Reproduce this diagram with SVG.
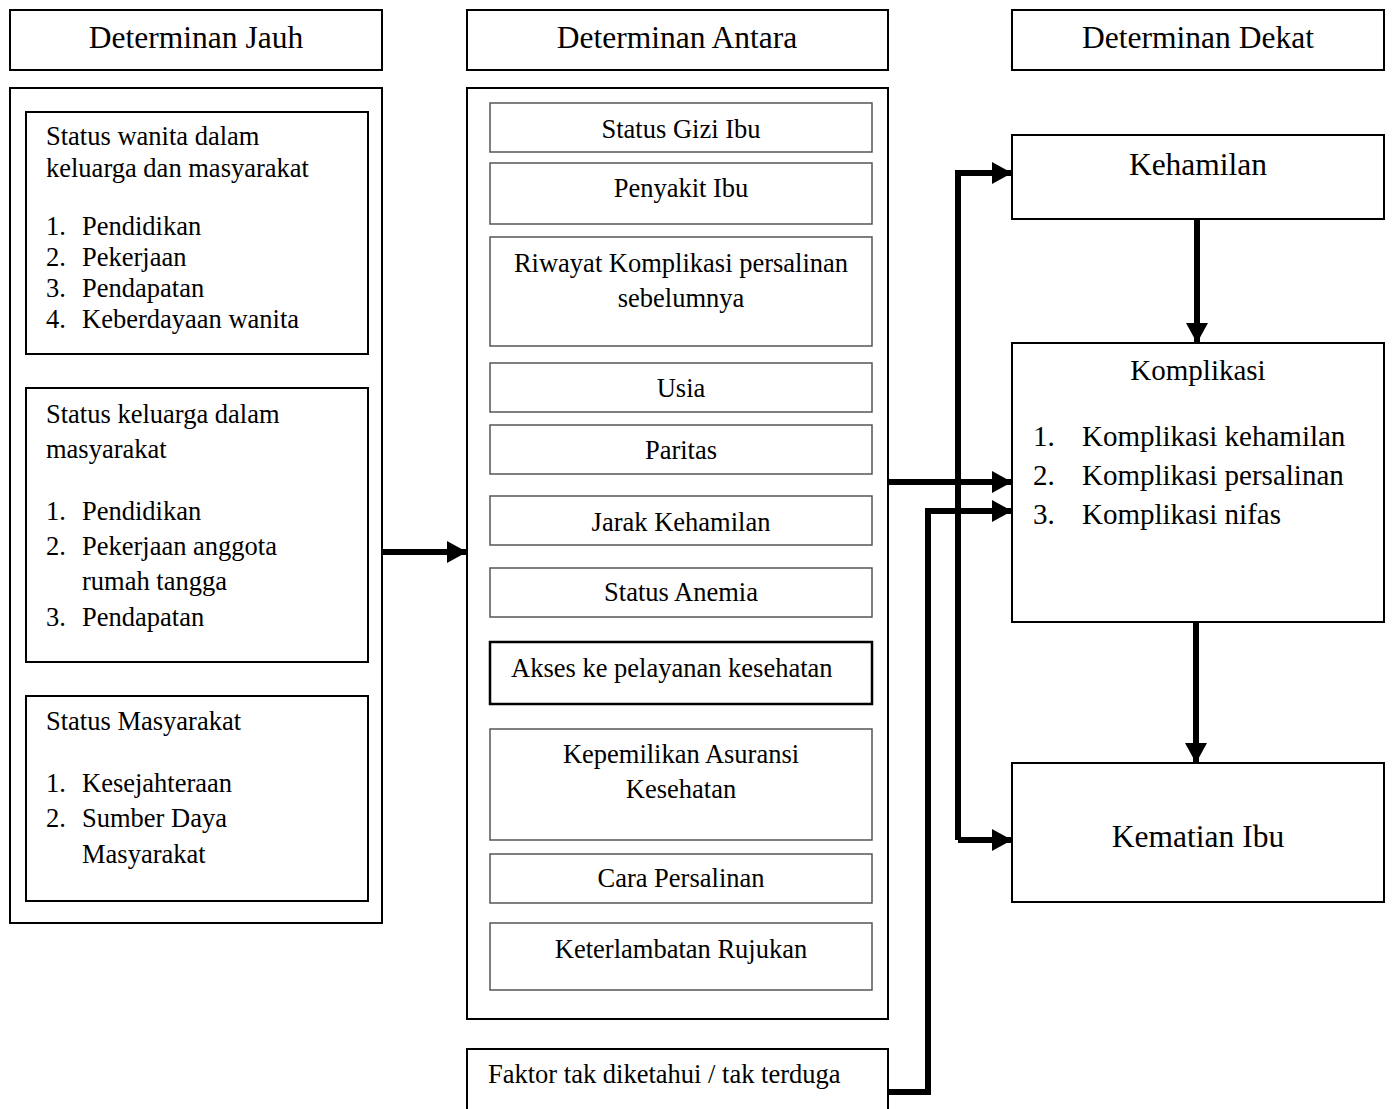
<svg xmlns="http://www.w3.org/2000/svg" width="1394" height="1109" viewBox="0 0 1394 1109">
<style>
text{font-family:"Liberation Serif","Times New Roman",serif;fill:#000}
.hd{font-size:31.5px;text-anchor:middle}
.b{font-size:26.5px}
.c{font-size:26.5px;text-anchor:middle}
.k{font-size:29px}
.box{fill:#fff;stroke:#000;stroke-width:2}
.ib{fill:#fff;stroke:#555;stroke-width:1.5}
.conn{fill:none;stroke:#000;stroke-width:6}
</style>
<defs>
<marker id="ah" markerWidth="20" markerHeight="22" refX="20" refY="11" markerUnits="userSpaceOnUse" orient="auto">
<path d="M0,0 L20,11 L0,22 Z" fill="#000"/>
</marker>
</defs>
<rect width="1394" height="1109" fill="#fff"/>

<g id="hdr-jauh"><rect class="box" x="10" y="10" width="372" height="60"/><text class="hd" x="196" y="48">Determinan Jauh</text></g>
<g id="hdr-antara"><rect class="box" x="467" y="10" width="421" height="60"/><text class="hd" x="677" y="48">Determinan Antara</text></g>
<g id="hdr-dekat"><rect class="box" x="1012" y="10" width="372" height="60"/><text class="hd" x="1198" y="48">Determinan Dekat</text></g>

<g id="panel-jauh">
<rect class="box" x="10" y="88" width="372" height="835"/>
<g id="jauh-1">
<rect class="box" x="26" y="112" width="342" height="242"/>
<text class="b" x="46" y="145">Status wanita dalam</text>
<text class="b" x="46" y="177">keluarga dan masyarakat</text>
<text class="b" x="46" y="235">1.</text><text class="b" x="82" y="235">Pendidikan</text>
<text class="b" x="46" y="266">2.</text><text class="b" x="82" y="266">Pekerjaan</text>
<text class="b" x="46" y="297">3.</text><text class="b" x="82" y="297">Pendapatan</text>
<text class="b" x="46" y="328">4.</text><text class="b" x="82" y="328">Keberdayaan wanita</text>
</g>
<g id="jauh-2">
<rect class="box" x="26" y="388" width="342" height="274"/>
<text class="b" x="46" y="423">Status keluarga dalam</text>
<text class="b" x="46" y="458">masyarakat</text>
<text class="b" x="46" y="520">1.</text><text class="b" x="82" y="520">Pendidikan</text>
<text class="b" x="46" y="555">2.</text><text class="b" x="82" y="555">Pekerjaan anggota</text>
<text class="b" x="82" y="590">rumah tangga</text>
<text class="b" x="46" y="626">3.</text><text class="b" x="82" y="626">Pendapatan</text>
</g>
<g id="jauh-3">
<rect class="box" x="26" y="696" width="342" height="205"/>
<text class="b" x="46" y="730">Status Masyarakat</text>
<text class="b" x="46" y="792">1.</text><text class="b" x="82" y="792">Kesejahteraan</text>
<text class="b" x="46" y="827">2.</text><text class="b" x="82" y="827">Sumber Daya</text>
<text class="b" x="82" y="863">Masyarakat</text>
</g>
</g>

<g id="panel-antara">
<rect class="box" x="467" y="88" width="421" height="931"/>
<g id="a-gizi"><rect class="ib" x="490" y="103" width="382" height="49"/><text class="c" x="681" y="138">Status Gizi Ibu</text></g>
<g id="a-penyakit"><rect class="ib" x="490" y="163" width="382" height="61"/><text class="c" x="681" y="197">Penyakit Ibu</text></g>
<g id="a-riwayat"><rect class="ib" x="490" y="237" width="382" height="109"/><text class="c" x="681" y="272">Riwayat Komplikasi persalinan</text><text class="c" x="681" y="307">sebelumnya</text></g>
<g id="a-usia"><rect class="ib" x="490" y="363" width="382" height="49"/><text class="c" x="681" y="397">Usia</text></g>
<g id="a-paritas"><rect class="ib" x="490" y="425" width="382" height="49"/><text class="c" x="681" y="459">Paritas</text></g>
<g id="a-jarak"><rect class="ib" x="490" y="496" width="382" height="49"/><text class="c" x="681" y="531">Jarak Kehamilan</text></g>
<g id="a-anemia"><rect class="ib" x="490" y="568" width="382" height="49"/><text class="c" x="681" y="601">Status Anemia</text></g>
<g id="a-akses"><rect x="490" y="642" width="382" height="62" fill="#fff" stroke="#000" stroke-width="2.5"/><text class="b" x="511" y="677">Akses ke pelayanan kesehatan</text></g>
<g id="a-asuransi"><rect class="ib" x="490" y="729" width="382" height="111"/><text class="c" x="681" y="763">Kepemilikan Asuransi</text><text class="c" x="681" y="798">Kesehatan</text></g>
<g id="a-cara"><rect class="ib" x="490" y="854" width="382" height="49"/><text class="c" x="681" y="887">Cara Persalinan</text></g>
<g id="a-rujukan"><rect class="ib" x="490" y="923" width="382" height="67"/><text class="c" x="681" y="958">Keterlambatan Rujukan</text></g>
</g>

<g id="faktor"><rect class="box" x="467" y="1049" width="421" height="70"/><text class="b" x="488" y="1083">Faktor tak diketahui / tak terduga</text></g>

<g id="kehamilan"><rect class="box" x="1012" y="135" width="372" height="84"/><text class="hd" x="1198" y="175">Kehamilan</text></g>
<g id="komplikasi">
<rect class="box" x="1012" y="343" width="372" height="279"/>
<text class="k" x="1198" y="380" text-anchor="middle">Komplikasi</text>
<text class="k" x="1033" y="446">1.</text><text class="k" x="1082" y="446">Komplikasi kehamilan</text>
<text class="k" x="1033" y="485">2.</text><text class="k" x="1082" y="485">Komplikasi persalinan</text>
<text class="k" x="1033" y="524">3.</text><text class="k" x="1082" y="524">Komplikasi nifas</text>
</g>
<g id="kematian"><rect class="box" x="1012" y="763" width="372" height="139"/><text class="hd" x="1198" y="847">Kematian Ibu</text></g>

<g id="connectors">
<path class="conn" d="M382,552 H467" marker-end="url(#ah)"/>
<path class="conn" d="M888,482 H1012" marker-end="url(#ah)"/>
<path class="conn" d="M958,840 V173 H1012" marker-end="url(#ah)"/>
<path class="conn" d="M958,840 H1012" marker-end="url(#ah)"/>
<path class="conn" d="M888,1092 H928 V511 H1012" marker-end="url(#ah)"/>
<path class="conn" d="M1197,219 V343" marker-end="url(#ah)"/>
<path class="conn" d="M1196,622 V763" marker-end="url(#ah)"/>
</g>
</svg>
